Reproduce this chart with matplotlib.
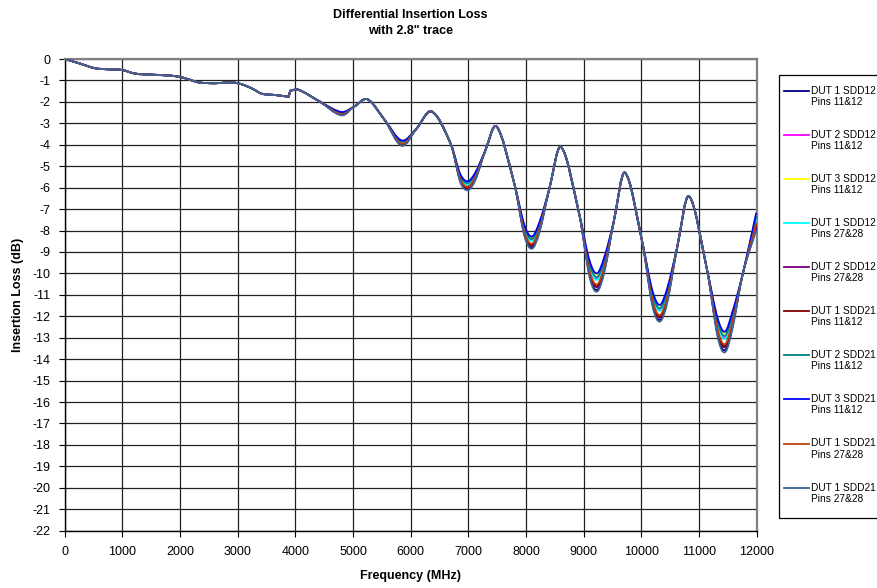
import matplotlib
matplotlib.use("Agg")
import matplotlib.pyplot as plt
import numpy as np
from matplotlib.path import Path
from matplotlib.patches import PathPatch, Rectangle
from matplotlib.lines import Line2D

plt.rcParams['font.family'] = ['Liberation Sans', 'DejaVu Sans']
plt.rcParams['axes.unicode_minus'] = False

# ---------------- data ----------------
freq_mhz = [0, 250, 525, 750, 990, 1220, 1500, 1740, 1970, 2150, 2320, 2600, 2900, 3070,
            3250, 3420, 3650, 3885,
            3910, 4050, 4420, 4800, 5020, 5250, 5550, 5845, 6100, 6365, 6700, 6860, 6990,
            7120, 7290, 7490, 7800, 7970, 8100, 8230, 8400, 8605, 8920, 9100, 9230, 9360,
            9520, 9715, 10020, 10190, 10320, 10450, 10620, 10825, 11140, 11320, 11450,
            11580, 11760, 11990]

shared_db = [0, -0.20, -0.43, -0.48, -0.51, -0.68, -0.73, -0.76, -0.82, -0.95, -1.09, -1.13,
             -1.09, -1.18, -1.38, -1.62, -1.68, -1.76,
             -1.48, -1.43, -1.98, -2.55, -2.22, -1.88, -2.85, -3.92, -3.25, -2.45, -4.0,
             -5.5, -5.9, -5.45, -4.3, -3.15, -5.85, -7.95, -8.55, -7.85, -6.1, -4.1, -7.2,
             -9.7, -10.4, -9.5, -7.6, -5.3, -8.6, -11.1, -11.9, -10.95, -8.8, -6.4, -9.85,
             -12.45, -13.2, -12.1, -10.0, -7.6]

jump_after_mhz = 3885

# frequencies where the individual traces separate (troughs and their flanks)
varying_mhz = [4800, 5845, 6860, 6990, 7120, 7970, 8100, 8230, 9100, 9230, 9360,
               10190, 10320, 10450, 11320, 11450, 11580, 11990]

series_names = [
    "DUT 1 SDD12\nPins 11&12",
    "DUT 2 SDD12\nPins 11&12",
    "DUT 3 SDD12\nPins 11&12",
    "DUT 1 SDD12\nPins 27&28",
    "DUT 2 SDD12\nPins 27&28",
    "DUT 1 SDD21\nPins 11&12",
    "DUT 2 SDD21\nPins 11&12",
    "DUT 3 SDD21\nPins 11&12",
    "DUT 1 SDD21\nPins 27&28",
    "DUT 1 SDD21\nPins 27&28",
]

series_colors = ["#000080", "#FF00FF", "#FFFF00", "#00FFFF", "#800080",
                 "#800000", "#008080", "#0000FF", "#C0400C", "#3C6494"]

dut1_sdd12_p11 = [-2.61, -4.03, -5.70, -6.08, -5.62, -8.18, -8.79, -8.06, -10.07, -10.77,
                  -9.85, -11.42, -12.17, -11.27, -12.84, -13.58, -12.49, -7.92]
dut2_sdd12_p11 = [-2.52, -3.88, -5.48, -5.83, -5.41, -7.88, -8.45, -7.77, -9.62, -10.26,
                  -9.43, -11.00, -11.70, -10.88, -12.33, -13.01, -12.02, -7.44]
dut3_sdd12_p11 = [-2.48, -3.81, -5.39, -5.72, -5.32, -7.76, -8.31, -7.65, -9.43, -10.04,
                  -9.26, -10.83, -11.51, -10.71, -12.11, -12.77, -11.82, -7.24]
dut1_sdd12_p27 = [-2.53, -3.89, -5.50, -5.85, -5.42, -7.91, -8.48, -7.80, -9.66, -10.30,
                  -9.47, -11.04, -11.74, -10.91, -12.37, -13.06, -12.06, -7.48]
dut2_sdd12_p27 = [-2.59, -3.99, -5.65, -6.02, -5.56, -8.11, -8.71, -7.99, -9.96, -10.64,
                  -9.75, -11.32, -12.06, -11.18, -12.72, -13.44, -12.37, -7.80]
dut1_sdd21_p11 = [-2.58, -3.98, -5.63, -5.99, -5.55, -8.08, -8.68, -7.97, -9.92, -10.60,
                  -9.71, -11.28, -12.02, -11.14, -12.67, -13.39, -12.33, -7.76]
dut2_sdd21_p11 = [-2.50, -3.85, -5.44, -5.78, -5.37, -7.83, -8.39, -7.73, -9.54, -10.17,
                  -9.36, -10.93, -11.63, -10.81, -12.24, -12.91, -11.94, -7.36]
dut3_sdd21_p11 = [-2.47, -3.80, -5.37, -5.70, -5.30, -7.73, -8.28, -7.63, -9.39, -10.00,
                  -9.22, -10.79, -11.47, -10.68, -12.07, -12.72, -11.78, -7.20]
dut1_sdd21_p27a = [-2.57, -3.95, -5.59, -5.95, -5.51, -8.03, -8.62, -7.92, -9.85, -10.51,
                   -9.64, -11.21, -11.94, -11.08, -12.59, -13.30, -12.25, -7.68]
dut1_sdd21_p27b = [-2.63, -4.05, -5.74, -6.12, -5.65, -8.23, -8.85, -8.11, -10.15, -10.85,
                   -9.92, -11.49, -12.25, -11.34, -12.93, -13.68, -12.57, -8.00]

series_values = [dut1_sdd12_p11, dut2_sdd12_p11, dut3_sdd12_p11, dut1_sdd12_p27,
                 dut2_sdd12_p27, dut1_sdd21_p11, dut2_sdd21_p11, dut3_sdd21_p11,
                 dut1_sdd21_p27a, dut1_sdd21_p27b]

y_ticks = list(range(0, -23, -1))
x_ticks = list(range(0, 12001, 1000))


# ---------------- helpers ----------------
def hermite_segments(x, y):
    """Smoothed-line rendering (like a spreadsheet 'smoothed line') through the points."""
    x = np.asarray(x, float)
    y = np.asarray(y, float)
    n = len(x)
    m = np.zeros(n)
    if n > 2:
        m[1:-1] = (y[2:] - y[:-2]) / (x[2:] - x[:-2])
    m[0] = (y[1] - y[0]) / (x[1] - x[0])
    m[-1] = (y[-1] - y[-2]) / (x[-1] - x[-2])
    verts, codes = [], []
    for i in range(n - 1):
        h = x[i + 1] - x[i]
        verts += [(x[i] + h / 3, y[i] + m[i] * h / 3),
                  (x[i + 1] - h / 3, y[i + 1] - m[i + 1] * h / 3),
                  (x[i + 1], y[i + 1])]
        codes += [Path.CURVE4] * 3
    return verts, codes


def series_path(xs, ys):
    k = xs.index(jump_after_mhz) + 1
    va, ca = hermite_segments(xs[:k], ys[:k])
    vb, cb = hermite_segments(xs[k:], ys[k:])
    verts = [(xs[0], ys[0])] + va + [(xs[k], ys[k])] + vb
    codes = [Path.MOVETO] + ca + [Path.LINETO] + cb
    return Path(verts, codes)


# ---------------- figure ----------------
W, H = 877, 588
fig = plt.figure(figsize=(W / 100, H / 100), dpi=100)
ax_l, ax_r, ax_t, ax_b = 64.7, 756.7, 59.0, 530.7
ax = fig.add_axes([ax_l / W, 1 - ax_b / H, (ax_r - ax_l) / W, (ax_b - ax_t) / H])

ax.set_xlim(0, 12000)
ax.set_ylim(-22, 0)
ax.set_xticks(x_ticks)
ax.set_yticks(y_ticks)
ax.set_xticklabels([str(v) for v in x_ticks], fontsize=9)
ax.set_yticklabels([str(v) for v in y_ticks], fontsize=9)
ax.tick_params(axis='both', direction='out', length=4, width=0.8, pad=6)
ax.tick_params(axis='x', pad=7)

ax.grid(True, color='#222222', linewidth=0.9)
ax.set_axisbelow(True)
for s in ['top', 'right']:
    ax.spines[s].set_color('#808080')
    ax.spines[s].set_linewidth(1.6)
for s in ['left', 'bottom']:
    ax.spines[s].set_color('black')
    ax.spines[s].set_linewidth(1.0)

for vals, color in zip(series_values, series_colors):
    ys = list(shared_db)
    for f, v in zip(varying_mhz, vals):
        ys[freq_mhz.index(f)] = v
    patch = PathPatch(series_path(freq_mhz, ys), facecolor='none', edgecolor=color,
                      linewidth=1.3, zorder=3, capstyle='round', joinstyle='round')
    ax.add_patch(patch)

ax.set_xlabel("Frequency (MHz)", fontsize=9, fontweight='bold', labelpad=9)
ax.set_ylabel("Insertion Loss (dB)", fontsize=9, fontweight='bold', labelpad=6)
fig.text((ax_l + ax_r) / 2 / W, 1 - 15 / H, "Differential Insertion Loss",
         ha='center', va='center', fontsize=9, fontweight='bold')
fig.text((ax_l + ax_r) / 2 / W, 1 - 31 / H, 'with 2.8" trace',
         ha='center', va='center', fontsize=9, fontweight='bold')

# ---------------- legend (laid out as in the reference) ----------------
box_l, box_t, box_b = 779.0, 74.7, 518.0
fig.patches.append(Rectangle((box_l / W, 1 - box_b / H), (W + 10 - box_l) / W,
                             (box_b - box_t) / H, transform=fig.transFigure,
                             facecolor='white', edgecolor='black', linewidth=0.9))
first_y, step = 90.7, 44.1
for i, (name, color) in enumerate(zip(series_names, series_colors)):
    yy = first_y + step * i
    fig.lines.append(Line2D([784 / W, 809 / W], [1 - yy / H, 1 - yy / H],
                            transform=fig.transFigure, color=color, linewidth=1.3))
    l1, l2 = name.split("\n")
    fig.text(811 / W, 1 - yy / H, l1, ha='left', va='center', fontsize=7.3)
    fig.text(811 / W, 1 - (yy + 11) / H, l2, ha='left', va='center', fontsize=7.3)

fig.savefig("out.png", dpi=100)
